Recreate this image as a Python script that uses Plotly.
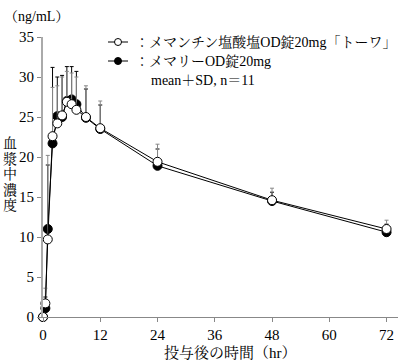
import plotly.graph_objects as go

time_h = [0, 0.5, 1, 2, 3, 4, 5, 6, 7, 9, 12, 24, 48, 72]
towa_mean = [0, 1.7, 9.7, 22.6, 24.2, 25.2, 26.9, 26.6, 25.9, 25.0, 23.6, 19.4, 14.6, 11.0]
towa_sd = [0, 1.9, 10.5, 6.1, 4.7, 4.8, 3.8, 3.9, 4.1, 3.9, 3.4, 2.2, 1.5, 1.1]
ref_mean = [0, 1.1, 11.0, 21.7, 25.1, 25.0, 27.0, 27.2, 26.6, 24.9, 23.5, 18.9, 14.5, 10.6]
ref_sd = [0, 1.4, 8.0, 9.5, 4.9, 5.2, 4.3, 4.1, 4.1, 3.6, 3.0, 2.1, 1.1, 1.0]
x_ticks = [0, 12, 24, 36, 48, 60, 72]
y_ticks = [0, 5, 10, 15, 20, 25, 30, 35]
name_towa = "：メマンチン塩酸塩OD錠20mg「トーワ」"
name_ref = "：メマリーOD錠20mg"
note = "mean＋SD, n＝11"
y_title = "血漿中濃度"

FONT = "Liberation Serif, Noto Serif CJK JP, Noto Sans CJK JP, serif"

W, H = 400, 363
ML, MR, MT, MB = 43, 2, 37, 46
pw, ph = W - ML - MR, H - MT - MB
def px(xp): return (xp - ML) / pw
def py(yp): return (H - MB - yp) / ph

fig = go.Figure()
fig.add_trace(go.Scatter(
    x=time_h, y=ref_mean, name=name_ref, mode="lines+markers",
    line=dict(color="black", width=1),
    marker=dict(symbol="circle", size=9, color="black", line=dict(color="black", width=1)),
    error_y=dict(type="data", array=ref_sd, arrayminus=[0]*len(ref_sd), symmetric=False,
                 color="black", thickness=1, width=2),
    cliponaxis=False, showlegend=False,
))
fig.add_trace(go.Scatter(
    x=time_h, y=towa_mean, name=name_towa, mode="lines+markers",
    line=dict(color="black", width=1),
    marker=dict(symbol="circle", size=9, color="white", line=dict(color="black", width=1)),
    error_y=dict(type="data", array=towa_sd, arrayminus=[0]*len(towa_sd), symmetric=False,
                 color="#888888", thickness=1, width=2),
    cliponaxis=False, showlegend=False,
))

shapes = []
annotations = []
# manual legend
for yp, fill, label in [(42, "white", name_towa), (61, "black", name_ref)]:
    shapes.append(dict(type="line", xref="paper", yref="paper",
                       x0=px(108), x1=px(128), y0=py(yp), y1=py(yp),
                       line=dict(color="black", width=1)))
    shapes.append(dict(type="circle", xref="paper", yref="paper",
                       x0=px(114.5), x1=px(121.5), y0=py(yp + 3.5), y1=py(yp - 3.5),
                       fillcolor=fill, line=dict(color="black", width=1)))
    annotations.append(dict(text=label, x=px(133), y=py(yp), xref="paper", yref="paper",
                            xanchor="left", yanchor="middle", showarrow=False,
                            font=dict(family=FONT, size=14)))
annotations.append(dict(text=note, x=px(149), y=py(80), xref="paper", yref="paper",
                        xanchor="left", yanchor="middle", showarrow=False,
                        font=dict(family=FONT, size=14)))
for i, ch in enumerate(y_title):
    annotations.append(dict(text=ch, x=px(10), y=py(143 + 15.5 * i), xref="paper",
                            yref="paper", xanchor="center", yanchor="middle", showarrow=False,
                            font=dict(family=FONT, size=14)))
annotations.append(dict(text="（ng/mL）", x=px(2), y=py(16), xref="paper", yref="paper",
                        xanchor="left", yanchor="middle", showarrow=False,
                        font=dict(family=FONT, size=14)))
annotations.append(dict(text="投与後の時間（hr）", x=px(230), y=py(352), xref="paper",
                        yref="paper", xanchor="center", yanchor="middle", showarrow=False,
                        font=dict(family=FONT, size=15)))

fig.update_layout(
    width=W, height=H,
    margin=dict(l=ML, r=MR, t=MT, b=MB, autoexpand=False),
    paper_bgcolor="white", plot_bgcolor="white",
    font=dict(family=FONT, size=14, color="black"),
    showlegend=False,
    xaxis=dict(range=[0, 74.4], tickvals=x_ticks, ticks="outside", ticklen=4,
               tickcolor="#888888", showline=True, linecolor="#888888", linewidth=1,
               showgrid=False, zeroline=False, automargin=False,
               tickfont=dict(family=FONT, size=15)),
    yaxis=dict(range=[0, 35], tickvals=y_ticks, ticks="outside", ticklen=4,
               tickcolor="#888888", showline=True, linecolor="#aaaaaa", linewidth=2,
               showgrid=False, zeroline=False, automargin=False,
               tickfont=dict(family=FONT, size=15)),
    shapes=shapes,
    annotations=annotations,
)

fig.write_html("out.html", config={"displayModeBar": False})
with open("out.html", encoding="utf-8") as f:
    html = f.read()
html = html.replace("<head>", "<head><style>html,body{margin:0;padding:0;overflow:hidden;}</style>", 1)
with open("out.html", "w", encoding="utf-8") as f:
    f.write(html)
